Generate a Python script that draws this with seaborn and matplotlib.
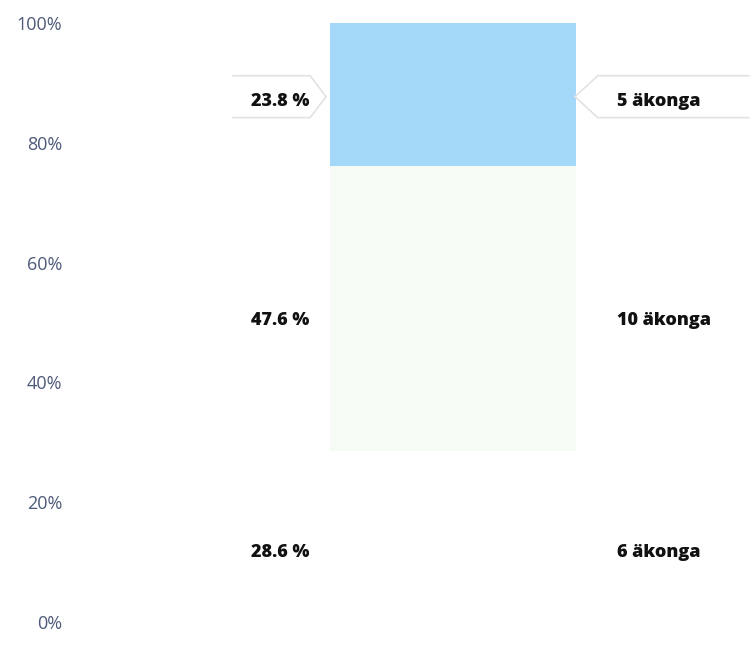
import matplotlib
matplotlib.use("Agg")
import matplotlib.pyplot as plt
import seaborn as sns
import pandas as pd
from matplotlib.patches import Polygon

# shares of the single stacked bar, bottom -> top
segments = ["6 äkonga", "10 äkonga", "5 äkonga"]
shares = [28.6, 47.6, 23.8]
share_labels = ["28.6 %", "47.6 %", "23.8 %"]
count_labels = ["6 äkonga", "10 äkonga", "5 äkonga"]
colors = ["#ffffff", "#f7fbf5", "#a3d8f9"]
yticks = [0, 20, 40, 60, 80, 100]
ytick_labels = ["0%", "20%", "40%", "60%", "80%", "100%"]
label_shift = [2.7, 2.0, 1.2]  # labels sit a little under the segment middle

sns.set_theme(style="white")
plt.rcParams["font.family"] = ["Open Sans", "DejaVu Sans"]

fig = plt.figure(figsize=(7.53, 6.48), dpi=100)
ax = fig.add_axes([75 / 753, 26 / 648, 678 / 753, 599 / 648])

# cumulative tops, drawn tallest first so the stack shows
tops = pd.Series(shares).cumsum().tolist()
for top, col in reversed(list(zip(tops, colors))):
    df = pd.DataFrame({"x": ["a"], "y": [top]})
    sns.barplot(data=df, x="x", y="y", color=col, width=1.0, ax=ax,
                saturation=1, linewidth=0)

ax.set_xlim(-1.537, 1.220)
ax.set_ylim(0, 100)
ax.set_yticks(yticks)
ax.set_yticklabels(ytick_labels, color="#4e5a7a", fontsize=13)
ax.tick_params(axis="y", length=0, pad=9)
ax.set_xticks([])
ax.set_xlabel("")
ax.set_ylabel("")
for s in ax.spines.values():
    s.set_visible(False)

bottoms = [0] + tops[:-1]
for i, (b, v) in enumerate(zip(bottoms, shares)):
    mid = b + v / 2 - label_shift[i]
    ax.text(-0.585, mid, share_labels[i], ha="right", va="center",
            fontsize=13, fontweight="heavy", color="#111111")
    ax.text(0.667, mid, count_labels[i], ha="left", va="center",
            fontsize=13, fontweight="heavy", color="#111111")

# callouts for the top segment
mid = bottoms[-1] + shares[-1] / 2 - 0.4
h = 3.5
left = Polygon([(-0.898, mid + h), (-0.581, mid + h), (-0.516, mid),
                (-0.581, mid - h), (-0.898, mid - h)], closed=False,
               fill=False, edgecolor="#e2e2e2", linewidth=1.2)
right = Polygon([(1.207, mid + h), (0.589, mid + h), (0.496, mid),
                 (0.589, mid - h), (1.207, mid - h)], closed=False,
                fill=False, edgecolor="#e2e2e2", linewidth=1.2)
ax.add_patch(left)
ax.add_patch(right)

fig.savefig("out.png", dpi=100)
